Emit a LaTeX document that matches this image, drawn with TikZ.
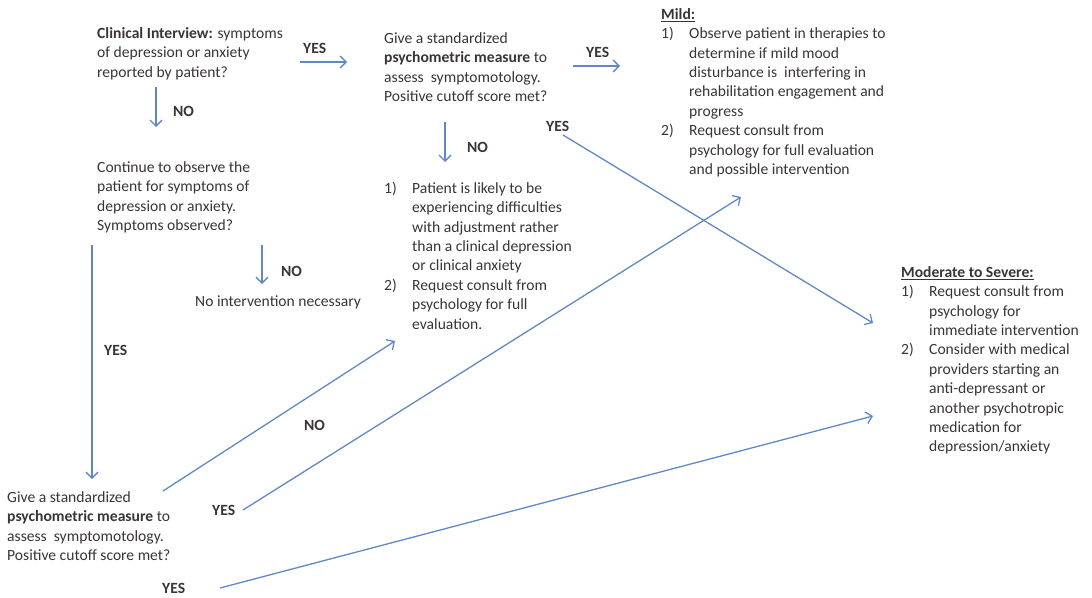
\documentclass[tikz,border=0pt]{standalone}
\usepackage{fontspec}
\setmainfont{Carlito}
\usetikzlibrary{arrows.meta}
\definecolor{inktext}{RGB}{58,52,52}
\definecolor{flowblue}{RGB}{96,136,196}
% first-line strut: fixes the distance from a block's top to its first baseline
\newcommand{\fl}{\rule{0pt}{12pt}}
\newcommand{\itm}[1]{\makebox[28pt][l]{#1}}
\newcommand{\ind}{\hspace*{28pt}}
\begin{document}
\begin{tikzpicture}[x=1pt,y=-1pt,
  txt/.style={anchor=north west,inner sep=0pt,align=left,text=inktext,
    font=\fontsize{15.6}{19.4}\selectfont},
  lbl/.style={anchor=base west,inner sep=0pt,text=inktext,
    font=\fontsize{15.6}{19.4}\selectfont\bfseries},
  flow/.style={draw=flowblue,line width=1.3pt,-{Straight Barb[length=6pt,width=12pt]}}]
\useasboundingbox (0,0) rectangle (1092,597);

% decision and outcome blocks
\node[txt] (interview) at (97,26) {\fl\textbf{Clinical Interview:} symptoms\\of depression or anxiety\\reported by patient?};
\node[txt] (measureA) at (384,31) {\fl Give a standardized\\\textbf{psychometric measure} to\\assess\ \ symptomotology.\\Positive cutoff score met?};
\node[txt] (mild) at (661,7) {\fl\textbf{\underline{Mild:}}\\
  \itm{1)}Observe patient in therapies to\\
  \ind determine if mild mood\\
  \ind disturbance is\ \ interfering in\\
  \ind rehabilitation engagement and\\
  \ind progress\\
  \itm{2)}Request consult from\\
  \ind psychology for full evaluation\\
  \ind and possible intervention};
\node[txt] (observe) at (97,160) {\fl Continue to observe the\\patient for symptoms of\\depression or anxiety.\\Symptoms observed?};
\node[txt] (adjust) at (384,181) {\fl\itm{1)}Patient is likely to be\\
  \ind experiencing difficulties\\
  \ind with adjustment rather\\
  \ind than a clinical depression\\
  \ind or clinical anxiety\\
  \itm{2)}Request consult from\\
  \ind psychology for full\\
  \ind evaluation.};
\node[txt] (nointerv) at (195,294) {\fl No intervention necessary};
\node[txt] (measureB) at (7,490) {\fl Give a standardized\\\textbf{psychometric measure} to\\assess\ \ symptomotology.\\Positive cutoff score met?};
\node[txt] (severe) at (901,265) {\fl\textbf{\underline{Moderate to Severe:}}\\
  \itm{1)}Request consult from\\
  \ind psychology for\\
  \ind immediate intervention\\
  \itm{2)}Consider with medical\\
  \ind providers starting an\\
  \ind anti-depressant or\\
  \ind another psychotropic\\
  \ind medication for\\
  \ind depression/anxiety};

% branch labels
\node[lbl] (yesA) at (303,53) {YES};
\node[lbl] (noA) at (173,116) {NO};
\node[lbl] (yesB) at (586,57) {YES};
\node[lbl] (yesC) at (546,131) {YES};
\node[lbl] (noB) at (467,152) {NO};
\node[lbl] (noC) at (281,276) {NO};
\node[lbl] (yesD) at (104,355) {YES};
\node[lbl] (noD) at (304,430) {NO};
\node[lbl] (yesE) at (212,515) {YES};
\node[lbl] (yesF) at (162,593) {YES};

% connector end points
\coordinate (a1) at (300,62);  \coordinate (a2) at (347,62);
\coordinate (b1) at (156,87);  \coordinate (b2) at (156,127);
\coordinate (c1) at (573,66);  \coordinate (c2) at (620,66);
\coordinate (d1) at (445,122); \coordinate (d2) at (445,162);
\coordinate (e1) at (262,245); \coordinate (e2) at (262,284);
\coordinate (f1) at (92,245);  \coordinate (f2) at (92,479);
\coordinate (g1) at (163,491); \coordinate (g2) at (395,341);
\coordinate (h1) at (243,510); \coordinate (h2) at (741,197);
\coordinate (i1) at (220,588); \coordinate (i2) at (873,416);
\coordinate (j1) at (563,135); \coordinate (j2) at (873,323);

% connectors
\draw[flow] (a1) -- (a2);
\draw[flow] (b1) -- (b2);
\draw[flow] (c1) -- (c2);
\draw[flow] (d1) -- (d2);
\draw[flow] (e1) -- (e2);
\draw[flow] (f1) -- (f2);
\draw[flow] (g1) -- (g2);
\draw[flow] (h1) -- (h2);
\draw[flow] (i1) -- (i2);
\draw[flow] (j1) -- (j2);
\end{tikzpicture}
\end{document}
